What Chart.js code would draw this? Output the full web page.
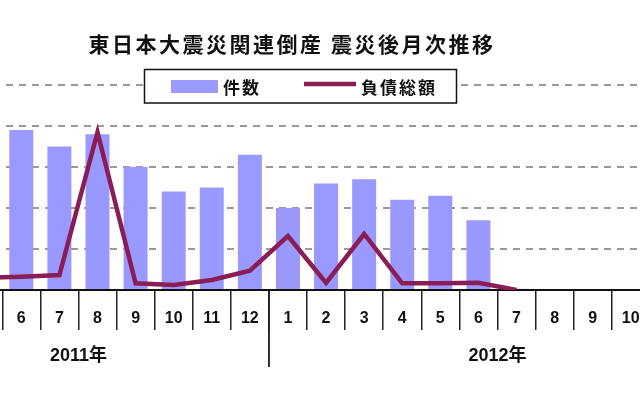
<!DOCTYPE html>
<html><head><meta charset="utf-8">
<script src="https://cdn.jsdelivr.net/npm/chart.js@4"></script>
<style>
html,body{margin:0;padding:0;background:#fff;overflow:hidden;width:640px;height:400px;position:relative;}
#wrap{position:absolute;left:-152px;top:0;width:878px;height:400px;}
</style></head><body>
<div id="wrap"><canvas id="c"></canvas></div>
<script>
const chartTitle = '東日本大震災関連倒産 震災後月次推移';
const seriesNames = ['件数', '負債総額'];
const months = ['3','4','5','6','7','8','9','10','11','12','1','2','3','4','5','6','7','8','9','10','11','12'];
const yearLabels = ['2011年', '2012年'];
const yearSpans = [10, 12];
// 件数 (cases)
const counts = [12, 36, 42, 39, 35, 38, 30, 24, 25, 33, 20, 26, 27, 22, 23, 17, 0.3, null, null, null, null, null];
// 負債総額 (億円)
const debt = [200, 600, 300, 324, 366, 3850, 163, 122, 244, 471, 1317, 171, 1366, 163, 163, 178, 0, null, null, null, null, null];

const BAR_COLOR = '#9999ff';
const LINE_COLOR = '#8b1d55';

const decor = {
  id: 'decor',
  afterDraw(chart) {
    const { ctx, chartArea, scales: { x } } = chart;
    ctx.save();
    // year dividers and labels
    const half = (x.getPixelForValue(1) - x.getPixelForValue(0)) / 2;
    let start = 0;
    ctx.strokeStyle = '#222';
    ctx.lineWidth = 1.5;
    ctx.fillStyle = '#111';
    ctx.textAlign = 'center';
    ctx.textBaseline = 'middle';
    ctx.font = 'bold 18px "Liberation Sans", "Noto Sans CJK JP"';
    yearSpans.forEach((n, k) => {
      const left = x.getPixelForValue(start) - half;
      const right = x.getPixelForValue(start + n - 1) + half;
      [left, right].forEach(px => {
        ctx.beginPath();
        ctx.moveTo(px, chartArea.bottom);
        ctx.lineTo(px, chartArea.bottom + 77);
        ctx.stroke();
      });
      ctx.fillText(yearLabels[k], (left + right) / 2, chartArea.bottom + 66);
      start += n;
    });
    // title
    ctx.font = 'bold 21px "Noto Sans CJK JP"';
    ctx.letterSpacing = '2.5px';
    ctx.fillStyle = '#111';
    ctx.textAlign = 'center';
    ctx.fillText(chartTitle, 444, 44);
    // legend box
    ctx.letterSpacing = '2px';
    ctx.fillStyle = '#fff';
    ctx.fillRect(296.5, 69.5, 312, 33.5);
    ctx.strokeStyle = '#111';
    ctx.lineWidth = 1.5;
    ctx.strokeRect(296.5, 69.5, 312, 33.5);
    ctx.fillStyle = BAR_COLOR;
    ctx.fillRect(323, 80, 47, 13);
    ctx.strokeStyle = LINE_COLOR;
    ctx.lineWidth = 4.5;
    ctx.beginPath();
    ctx.moveTo(456, 84);
    ctx.lineTo(508, 84);
    ctx.stroke();
    ctx.fillStyle = '#111';
    ctx.textAlign = 'left';
    ctx.font = 'bold 17px "Noto Sans CJK JP"';
    ctx.fillText(seriesNames[0], 375, 87.5);
    ctx.fillText(seriesNames[1], 513, 87.5);
    ctx.restore();
  }
};

new Chart(document.getElementById('c'), {
  data: {
    labels: months,
    datasets: [
      {
        type: 'line', label: seriesNames[1], data: debt, yAxisID: 'y2', order: 0,
        borderColor: LINE_COLOR, backgroundColor: LINE_COLOR, borderWidth: 4.5,
        pointRadius: 0, tension: 0, borderJoinStyle: 'miter', borderCapStyle: 'butt', spanGaps: false
      },
      {
        type: 'bar', label: seriesNames[0], data: counts, yAxisID: 'y', order: 1,
        backgroundColor: BAR_COLOR, borderWidth: 0,
        barPercentage: 0.63, categoryPercentage: 1.0
      }
    ]
  },
  options: {
    responsive: true, maintainAspectRatio: false, animation: false, devicePixelRatio: 1,
    layout: { padding: { top: 85, left: 0, right: 0, bottom: 0 } },
    plugins: { legend: { display: false }, title: { display: false }, tooltip: { enabled: false } },
    scales: {
      x: {
        type: 'category', offset: true,
        grid: { display: true, drawOnChartArea: false, drawTicks: true, tickLength: 40, color: '#222', lineWidth: 1.5, offset: true },
        border: { display: true, color: '#111', width: 2 },
        ticks: { color: '#111', font: { family: 'Liberation Sans', size: 16, weight: 'bold' }, padding: -21, maxRotation: 0, autoSkip: false },
        afterFit: s => { s.height = 110; }
      },
      y: {
        position: 'left', min: 0, max: 50,
        ticks: { display: false, stepSize: 10 },
        grid: { color: '#9a9a9a', lineWidth: 2, drawTicks: false, borderDash: [7, 6] },
        border: { display: true, color: 'rgba(0,0,0,0)', width: 1, dash: [7, 6] },
        afterFit: s => { s.width = 40; }
      },
      y2: {
        position: 'right', min: 0, max: 5000, display: false,
        ticks: { stepSize: 1000 }
      }
    }
  },
  plugins: [decor]
});
</script>
</body></html>
